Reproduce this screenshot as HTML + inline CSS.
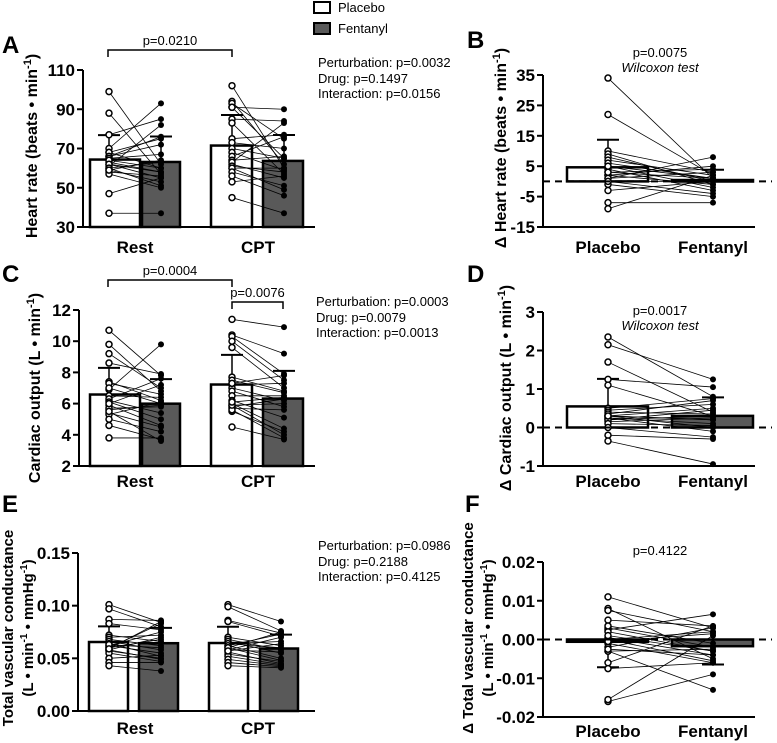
<!DOCTYPE html>
<html><head><meta charset="utf-8"><style>
html,body{margin:0;padding:0;background:#fff;}
svg{display:block;font-family:"Liberation Sans",Arial,sans-serif;}
.tk{font-size:17px;font-weight:bold;}
.tt{font-size:16px;font-weight:bold;}
.tt2{font-size:15px;font-weight:bold;}
.xl{font-size:17px;font-weight:bold;}
.st{font-size:13px;}
.lt{font-size:24px;font-weight:bold;}
</style></head><body>
<svg id="fig" width="777" height="743" viewBox="0 0 777 743">
<g>
<rect x="314" y="2" width="16" height="11" fill="#fff" stroke="#000" stroke-width="2"/>
<text x="338" y="12" class="st">Placebo</text>
<rect x="314" y="23" width="16" height="11" fill="#595959" stroke="#000" stroke-width="2"/>
<text x="338" y="33" class="st">Fentanyl</text>
</g>
<text x="2" y="53" class="lt">A</text>
<text x="467" y="48" class="lt">B</text>
<text x="2" y="282" class="lt">C</text>
<text x="467" y="282" class="lt">D</text>
<text x="2" y="512" class="lt">E</text>
<text x="465" y="512" class="lt">F</text>
<g>
<text x="318" y="67" class="st">Perturbation: p=0.0032</text><text x="318" y="83" class="st">Drug: p=0.1497</text><text x="318" y="98" class="st">Interaction: p=0.0156</text></g>
<g>
<text x="316" y="306" class="st">Perturbation: p=0.0003</text><text x="316" y="322" class="st">Drug: p=0.0079</text><text x="316" y="337" class="st">Interaction: p=0.0013</text></g>
<g>
<text x="318" y="550" class="st">Perturbation: p=0.0986</text><text x="318" y="566" class="st">Drug: p=0.2188</text><text x="318" y="581" class="st">Interaction: p=0.4125</text></g>
</svg>
<script>
// Panel A: heart rate
const aRestPla=[99,88,77,70,68,66,68,66,65,63,62,60,59,58,57,47,37,64,61,62,60,59];
const aRestFen=[62,57,85,93,75,76,60,72,67,58,55,63,53,56,50,55,37,60,82,58,51,64];
const aCptPla=[102,94,93,91,91,85,83,75,73,70,68,66,64,62,60,63,61,60,58,56,53,45];
const aCptFen=[60,62,75,90,65,84,57,77,70,65,59,76,66,55,60,83,58,49,51,46,56,37];
const aTicks=[30,50,70,90,110];
// Panel B: delta heart rate
const bPla=[34,22,10,9,8,7,6,5,4,3,2,1,0,-1,-3,-7,-9,5,2,1,0,3];
const bFen=[1,2,3,-1,0,2,1,-2,-3,4,5,8,-4,-5,0,-7,2,1,-1,3,0,1];
const bTicks=[-15,-5,5,15,25,35];
// Panel C: cardiac output
const cRestPla=[10.7,9.8,9.2,8.6,7.4,6.9,7.3,7.0,6.2,6.5,6.3,6.1,5.9,5.6,5.4,5.3,5.0,4.6,3.8,5.7,6.0,5.5];
const cRestFen=[7.8,6.8,7.0,7.9,6.2,9.8,6.6,6.0,5.4,6.4,7.6,5.0,4.6,5.9,4.5,6.1,4.2,3.7,3.8,5.8,7.2,3.6];
const cCptPla=[11.4,10.4,10.3,10.0,9.6,7.7,7.5,7.2,7.0,6.8,6.5,6.0,5.9,5.8,5.7,5.5,5.6,4.5,6.2,7.3,5.9,6.1];
const cCptFen=[10.9,9.2,7.9,7.5,7.0,6.8,6.7,7.3,6.2,5.8,6.5,4.4,4.0,6.3,5.6,4.2,3.8,3.7,5.1,7.8,6.0,6.4];
const cTicks=[2,4,6,8,10,12];
// Panel D: delta cardiac output
const dPla=[2.35,2.15,1.7,1.25,1.1,0.5,0.45,0.4,0.3,0.25,0.2,0.15,0.3,0.25,0.2,0.1,0,-0.2,-0.35,0.3,0.35,0.3];
const dFen=[0.8,1.25,0.4,1.05,0.3,0.75,0.6,0.35,0.2,0.1,0.3,0.25,0,-0.1,0.45,0.05,-0.25,-0.3,-0.95,0.5,0.7,0.2];
const dTicks=[-1,0,1,2,3];
// Panel E: total vascular conductance
const eRestPla=[0.101,0.097,0.087,0.083,0.062,0.060,0.058,0.072,0.070,0.068,0.066,0.064,0.062,0.060,0.058,0.057,0.055,0.050,0.046,0.043,0.063,0.059];
const eRestFen=[0.084,0.080,0.086,0.077,0.075,0.083,0.070,0.066,0.072,0.062,0.058,0.052,0.055,0.068,0.049,0.050,0.047,0.053,0.046,0.038,0.060,0.085];
const eCptPla=[0.101,0.099,0.086,0.085,0.062,0.064,0.058,0.070,0.068,0.066,0.064,0.062,0.060,0.058,0.056,0.054,0.052,0.049,0.046,0.043,0.060,0.057];
const eCptFen=[0.085,0.076,0.074,0.071,0.073,0.066,0.070,0.062,0.058,0.055,0.060,0.050,0.048,0.056,0.045,0.047,0.044,0.043,0.042,0.041,0.075,0.064];
const eTicks=[0,0.05,0.10,0.15];
// Panel F: delta TVC
const fPla=[0.011,0.008,0.0075,0.005,0.003,0.0025,0.002,0.0005,0,0,-0.001,-0.002,-0.003,-0.003,-0.006,-0.0075,-0.016,-0.0155,0.001,-0.0005,-0.0025,0.0035];
const fFen=[0.003,-0.005,0.002,0.0035,-0.002,0.0065,-0.003,-0.004,0.002,-0.0055,-0.006,0.003,-0.013,-0.0025,0.0035,-0.006,-0.009,0.001,-0.003,0.0015,-0.004,-0.001];
const fTicks=[-0.02,-0.01,0,0.01,0.02];

const NS='http://www.w3.org/2000/svg';
const svg=document.getElementById('fig');
function el(tag,attrs,parent){const e=document.createElementNS(NS,tag);for(const k in attrs)e.setAttribute(k,attrs[k]);(parent||svg).appendChild(e);return e;}
function mean(a){return a.reduce((s,v)=>s+v,0)/a.length;}
function sd(a){const m=mean(a);return Math.sqrt(a.reduce((s,v)=>s+(v-m)*(v-m),0)/(a.length-1));}
function scale(v0,v1,p0,p1){return v=>p0+(v-v0)*(p1-p0)/(v1-v0);}

function axes(g,P,ticks,fmt){
  const ax=el('line',{x1:P.ax,y1:P.y(ticks[ticks.length-1]),x2:P.ax,y2:P.y(ticks[0]),stroke:'#000','stroke-width':2},g);
  
  
  ticks.forEach(t=>{
    el('line',{x1:P.ax-6,x2:P.ax,y1:P.y(t),y2:P.y(t),stroke:'#000','stroke-width':2},g);
    const tx=el('text',{x:P.ax-8,y:P.y(t)+6,'text-anchor':'end',class:'tk'},g);
    tx.textContent=fmt(t);
    
    
  });
  const xa=el('line',{x1:P.ax,x2:P.axEnd,y1:P.xAxisY,y2:P.xAxisY,stroke:'#000','stroke-width':2},g);
  
  
}
function bar(g,P,vals,x0,x1,fill,px,name){
  const m=mean(vals),s=sd(vals);
  const yb=P.y(P.base),ym=P.y(m);
  const r=el('rect',{x:x0,y:Math.min(yb,ym),width:x1-x0,height:Math.max(Math.abs(yb-ym),1.5),fill:fill,stroke:'#000','stroke-width':2.5},g);
  
  
  const ye=P.y(m+(m>=0?s:-s));
  el('line',{x1:px,x2:px,y1:ym,y2:ye,stroke:'#000','stroke-width':1.5},g);
  el('line',{x1:px-11,x2:px+11,y1:ye,y2:ye,stroke:'#000','stroke-width':2},g);
}
function pairs(g,P,a,b,xa,xb){
  a.forEach((v,i)=>el('line',{x1:xa,y1:P.y(v),x2:xb,y2:P.y(b[i]),stroke:'#000','stroke-width':0.8},g));
  a.forEach(v=>{const c=el('circle',{cx:xa,cy:P.y(v),r:3,fill:'#fff',stroke:'#000','stroke-width':1.5},g);
    
    });
  b.forEach(v=>{const c=el('circle',{cx:xb,cy:P.y(v),r:3,fill:'#000'},g);
    
    });
}
function text(g,x,y,s,cls,anchor,extra){const t=el('text',Object.assign({x:x,y:y,class:cls,'text-anchor':anchor||'middle'},extra||{}),g);t.textContent=s;return t;}
function ytitle(g,x,y,lines){
  const cls=lines.length>1?'tt2':'tt';
  lines.forEach((ln,i)=>{
    const t=el('text',{x:0,y:0,class:cls,'text-anchor':'middle',transform:`translate(${x+i*20},${y}) rotate(-90)`},g);
    t.innerHTML=ln;
    
    
  });
}
function bracket(g,x0,x1,y,label){
  el('path',{d:`M${x0},${y+7}V${y}H${x1}V${y+7}`,fill:'none',stroke:'#000','stroke-width':1.5},g);
  const t=text(g,(x0+x1)/2,y-5,label,'st');
  
  
}

function grouped(name,ticks,yTop,yBot,ax,fmt,rp,rf,cp,cf,xl,layout,titleLines,tx,ty,xLabY){
  const g=el('g',{});
  
  
  const P={y:scale(ticks[0],ticks[ticks.length-1],yBot,yTop),ax:ax,axEnd:315,xAxisY:yBot,base:ticks[0]};
  bar(g,P,rp,layout[0],layout[1],'#fff',layout[8],'bar-rest-placebo');
  bar(g,P,rf,layout[2],layout[3],'#595959',layout[9],'bar-rest-fentanyl');
  bar(g,P,cp,layout[4],layout[5],'#fff',layout[10],'bar-cpt-placebo');
  bar(g,P,cf,layout[6],layout[7],'#595959',layout[11],'bar-cpt-fentanyl');
  pairs(g,P,rp,rf,layout[8],layout[9]);
  pairs(g,P,cp,cf,layout[10],layout[11]);
  axes(g,P,ticks,fmt);
  const l1=text(g,135,xLabY,'Rest','xl');
  const l2=text(g,258,xLabY,'CPT','xl');
  ytitle(g,tx,ty,titleLines);
  return g;
}
function delta(name,ticks,yTop,yBot,fmt,pla,fen,titleLines,tx,ty,pLabel,pY,wilcox,xLabY){
  const g=el('g',{});
  
  
  const P={y:scale(ticks[0],ticks[ticks.length-1],yBot,yTop),ax:543,axEnd:755,xAxisY:yBot,base:0};
  bar(g,P,pla,567,648,'#fff',608,'bar-placebo');
  bar(g,P,fen,672,753,'#595959',713,'bar-fentanyl');
  pairs(g,P,pla,fen,608,713);
  axes(g,P,ticks,fmt);
  el('line',{x1:543,x2:772,y1:P.y(0),y2:P.y(0),stroke:'#000','stroke-width':2,'stroke-dasharray':'7,5'},g);
  const p=text(g,660,pY,pLabel,'st');
  if(wilcox){const w=text(g,660,pY+15,'Wilcoxon test','st',null,{'font-style':'italic'});}
  const l1=text(g,608,xLabY,'Placebo','xl');
  const l2=text(g,713,xLabY,'Fentanyl','xl');
  ytitle(g,tx,ty,titleLines);
  return g;
}
const L=[90,140,142,180,211,252,263,303,109,161,232,284];
const gA=grouped('panel-a-heart-rate',aTicks,70,227,83,v=>v,aRestPla,aRestFen,aCptPla,aCptFen,null,L,['Heart rate (beats • min<tspan dy="-6" font-size="11">-1</tspan><tspan dy="6">)</tspan>'],37,146,253);
bracket(gA,108,232,50,'p=0.0210');
delta('panel-b-delta-heart-rate',bTicks,75,227,v=>v,bPla,bFen,['Δ Heart rate (beats • min<tspan dy="-6" font-size="11">-1</tspan><tspan dy="6">)</tspan>'],506,148,'p=0.0075',57,true,253);
const gC=grouped('panel-c-cardiac-output',cTicks,310,466,79,v=>v,cRestPla,cRestFen,cCptPla,cCptFen,null,L,['Cardiac output (L • min<tspan dy="-6" font-size="11">-1</tspan><tspan dy="6">)</tspan>'],40,388,487);
bracket(gC,108,232,280,'p=0.0004');
bracket(gC,232,283,302,'p=0.0076');
delta('panel-d-delta-cardiac-output',dTicks,312,466,v=>v,dPla,dFen,['Δ Cardiac output (L • min<tspan dy="-6" font-size="11">-1</tspan><tspan dy="6">)</tspan>'],511,388,'p=0.0017',315,true,487);
const LE=[89,128,139,178,209,248,260,298,109,161,228,281];
grouped('panel-e-total-vascular-conductance',eTicks,553,711,78,v=>v.toFixed(2),eRestPla,eRestFen,eCptPla,eCptFen,null,LE,['Total vascular conductance','(L • min<tspan dy="-6" font-size="10">-1</tspan><tspan dy="6"> • mmHg</tspan><tspan dy="-6" font-size="10">-1</tspan><tspan dy="6">)</tspan>'],13,628,734);
delta('panel-f-delta-tvc',fTicks,562,717,v=>v.toFixed(2),fPla,fFen,['Δ Total vascular conductance','(L • min<tspan dy="-6" font-size="10">-1</tspan><tspan dy="6"> • mmHg</tspan><tspan dy="-6" font-size="10">-1</tspan><tspan dy="6">)</tspan>'],473,628,'p=0.4122',555,false,737);
</script>
</body></html>
